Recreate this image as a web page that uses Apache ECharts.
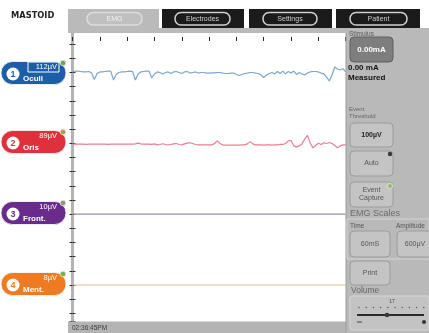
<!DOCTYPE html>
<html><head><meta charset="utf-8">
<script src="https://cdn.jsdelivr.net/npm/echarts@6/dist/echarts.min.js"></script>
<style>html,body{margin:0;padding:0;background:#fff}#c{width:429px;height:333px}</style>
</head><body><div id="c"></div>
<script>
// ---- data (deviation from each channel's baseline, in grid divisions; + = up) ----
const oculiValues = [0.04,0.1,0.1,0.07,0.04,0.04,0.07,-0.04,-0.49,-0.07,
 0.04,0.04,0.07,0.1,0.1,-0.53,-0.14,0,0.04,0.04,
 0.07,0.1,0.07,-0.53,-0.1,0.04,0.07,0.1,0.1,-0.39,
 -0.1,0.04,0,-0.1,0,0.04,-0.07,0.04,0.07,0,
 -0.07,0.04,0.07,-0.04,0,0.04,-0.04,0,0,-0.04,
 -0.04,-0.02,-0.02,0,0,-0.04,-0.07,-0.07,-0.04,-0.04,
 -0.14,-0.21,-0.14,-0.07,-0.04,0,0,-0.04,-0.07,-0.18,
 -0.35,-0.18,-0.07,0,-0.1,0.07,-0.07,0.1,-0.1,0.07,
 -0.04,0.1,-0.14,0,-0.1,-0.18,-0.04,0.04,0.07,0.07,
 0.04,-0.04,-0.1,-0.32,-0.6,-0.18,0.39,0.25,0.18,0.28,
 0.04];
const orisValues = [-0.06,-0.06,-0.05,-0.06,-0.06,-0.07,-0.06,-0.06,-0.05,-0.06,
 -0.06,-0.06,-0.06,-0.07,-0.06,-0.06,-0.06,-0.05,-0.06,-0.06,
 -0.06,-0.06,-0.05,-0.04,0.01,-0.04,-0.06,-0.06,-0.06,-0.07,
 -0.04,-0.11,-0.08,-0.03,-0.08,-0.11,-0.08,-0.04,-0.01,-0.08,
 -0.11,-0.04,0.01,0.04,-0.01,-0.08,-0.11,-0.10,-0.11,-0.11,
 -0.11,-0.11,-0.01,0.17,-0.01,-0.11,-0.13,-0.13,-0.13,-0.13,
 -0.13,-0.13,-0.11,-0.11,-0.04,0.12,-0.04,-0.11,-0.11,-0.1,
 -0.12,-0.1,-0.11,-0.12,-0.1,-0.11,-0.08,-0.08,-0.01,0.17,
 0.2,-0.18,-0.25,-0.18,-0.04,0.31,0.56,0.03,-0.32,-0.15,
 0.01,-0.08,0.04,-0.01,0.06,-0.01,-0.15,-0.32,-0.18,-0.11,
 -0.11];
const flatTimes = [0,10,20,30,40,50,60,70,80,90,100];
const frontValues = [0,0,0,0,0,0,0,0,0,0,0];
const mentValues = [0,0,0,0,0,0,0,0,0,0,0];

const channelNames = ['Oculi','Oris','Front.','Ment.'];
const channelAmps = ['112µV','89µV','10µV','8µV'];
const channelBaselines = [3,8,13,18];
const channelColors = ['#1d5ea8','#df313b','#6a2c8c','#ee7a22'];
const traceColors = ['#7fa5cb','#eb7d8f','#9e8cb3','#f4b98c'];
const dotColors = ['#6aa84f','#b59a45','#8d9a6d','#7cb342'];
const tabs = ['EMG','Electrodes','Settings','Patient'];
const timeLabel = '02:36:45PM';

function toPairs(times, vals, base){ return vals.map((v,i)=>[times ? times[i] : i, base - v]); }

const seriesData = [
  toPairs(null, oculiValues, channelBaselines[0]),
  toPairs(null, orisValues, channelBaselines[1]),
  toPairs(flatTimes, frontValues, channelBaselines[2]),
  toPairs(flatTimes, mentValues, channelBaselines[3])
];

// ---- graphic helpers ----
const F = '"Liberation Sans", Arial, sans-serif';
function R(x,y,w,h,fill,stroke,r,z,lw){return {type:'rect',z:z||10,silent:true,shape:{x,y,width:w,height:h,r:r||0},style:{fill:fill||'none',stroke:stroke||null,lineWidth:lw||1}};}
function T(x,y,text,font,fill,align,z){return {type:'text',z:z||12,silent:true,x,y,style:{text,font,fill,textAlign:align||'left',textVerticalAlign:'middle',verticalAlign:'middle'}};}
function C(cx,cy,r,fill,stroke,z,lw){return {type:'circle',z:z||12,silent:true,shape:{cx,cy,r},style:{fill,stroke:stroke||null,lineWidth:lw||1}};}
function L(x1,y1,x2,y2,stroke,lw,z){return {type:'line',z:z||12,silent:true,shape:{x1,y1,x2,y2},style:{stroke,lineWidth:lw||1}};}

const g = [];
// title
g.push(T(11,16,'MASTOID','bold 8.3px "DejaVu Sans", sans-serif','#222','left'));
// tab bar
g.push(R(68,28,361,5,'#bababa',null,0,9));
g.push(R(68,9,91,20,'#bababa',null,0,9));
const tabX = [[68,159],[162,244],[249,332],[336,420]];
const pillX = [[87,142],[175,230],[263,317],[350,407]];
for(let i=0;i<4;i++){
  if(i>0) g.push(R(tabX[i][0],9,tabX[i][1]-tabX[i][0],19,'#1b1b1b',null,0,9));
  g.push(R(pillX[i][0],12.5,pillX[i][1]-pillX[i][0],12.5,i===0?'#c0c0c0':'#1b1b1b',i===0?'#dcdcdc':'#d0d0d0',6,11,1.5));
  g.push(T((pillX[i][0]+pillX[i][1])/2,19,tabs[i],'7px '+F,i===0?'#f2f2f2':'#cfcfcf','center'));
}
// right panel
g.push(R(346,28,83,305,'#b9b9b9',null,0,9));
g.push(L(346,33,346,333,'#9a9a9a',1,10));
g.push(T(349,34,'Stimulus','6.5px '+F,'#5a5a5a'));
g.push(R(350,37,43,25,'#7e7e7e','#5e5e5e',4,11));
g.push(T(371.5,50,'0.00mA','bold 8px '+F,'#ffffff','center'));
g.push(T(348,68,'0.00 mA','bold 8px '+F,'#111'));
g.push(T(348,78,'Measured','bold 8px '+F,'#111'));
g.push(T(349,109,'Event','6px '+F,'#666'));
g.push(T(349,116,'Threshold','6px '+F,'#666'));
function button(x,y,w,h,lines,bold){
  g.push(R(x,y,w,h,'#c4c4c4','#9c9c9c',4,11));
  const n=lines.length;
  lines.forEach((s,i)=>g.push(T(x+w/2,y+h/2+(i-(n-1)/2)*8,s,(bold?'bold ':'')+'7px '+F,bold?'#222':'#555','center')));
}
button(350,123,43,24,['100µV'],true);
button(350,151,43,25,['Auto']);
g.push(C(390,154,2.2,'#3a3a3a',null,12));
button(350,182,43,25,['Event','Capture']);
g.push(C(390,186,2.5,'#8dc050','#e0e0e0',12));
g.push(R(347,219,82,40,'none','#d4d4d4',0,10));
g.push(T(350,214,'EMG Scales','9px '+F,'#6a6a6a'));
g.push(T(350,226,'Time','6.5px '+F,'#555'));
g.push(T(396,226,'Amplitude','6.5px '+F,'#555'));
button(350,231,40,26,['60mS']);
button(397,231,36,26,['600µV']);
button(350,261,40,24,['Print']);
g.push(T(351,291,'Volume','8.5px '+F,'#666'));
g.push(R(350,296,79,34,'#c3c3c3','#d6d6d6',2,10));
g.push(T(392,302,'17','5px '+F,'#444','center'));
for(let i=0;i<10;i++) g.push(C(359+i*7.2,307.5,0.7,'#555',null,12));
g.push(L(357,315,424,315,'#2c2c2c',2,12));
g.push(C(387,315,2.3,'#3a3a3a',null,13));
g.push(L(357,322,362,322,'#444',1,12));
g.push(C(424,322,2,'#333',null,12));
// bottom time strip
g.push(R(68,321.5,278,12,'#b4b4b4',null,0,9));
g.push(T(72,328,timeLabel,'6.5px '+F,'#3c3c3c'));
// channel badges
for(let i=0;i<4;i++){
  const cy = [73,142,213,284][i];
  g.push(R(1,cy-11.5,65,23,channelColors[i],'#ffffff',11.5,11,0.8));
  g.push(C(13,cy+1,6.5,'#ffffff',null,12));
  g.push(T(13,cy+1.5,String(i+1),'bold 9px '+F,channelColors[i],'center',13));
  g.push(T(57,cy-6,channelAmps[i],'7.5px '+F,'#ffffff','right',13));
  if(i===0) g.push(R(28,cy-11,31,10,'none','#ffffff',0,12,1));
  g.push(T(23,cy+6,channelNames[i],'bold 8px '+F,'#ffffff','left',13));
  g.push(C(63,cy-10,2.8,dotColors[i],'#e6e6e6',13,0.8));
}

const tick = {show:true,inside:true,length:4,lineStyle:{color:'#2a2a2a',width:1}};
const option = {
  animation:false,
  backgroundColor:'#ffffff',
  grid:{left:72.5,right:83.3,top:30,bottom:12,show:false},
  xAxis:[
    {type:'value',min:0,max:100,interval:10,position:'bottom',axisLine:{show:false},axisTick:tick,axisLabel:{show:false},splitLine:{show:false}},
    {type:'value',min:0,max:100,interval:10,position:'top',offset:-7,axisLine:{show:false},axisTick:tick,axisLabel:{show:false},splitLine:{show:false}}
  ],
  yAxis:[
    {type:'value',inverse:true,min:0,max:20.54,interval:1,position:'left',offset:1.5,axisLine:{show:true,lineStyle:{color:'#b3b3b3',width:3}},axisTick:{show:true,inside:true,length:3,lineStyle:{color:'#333',width:1}},axisLabel:{show:false},splitLine:{show:false}},
    {type:'value',inverse:true,min:0,max:20.54,interval:1,position:'right',axisLine:{show:false},axisTick:{show:true,inside:true,length:3,lineStyle:{color:'#2a2a2a',width:1}},axisLabel:{show:false},splitLine:{show:false}}
  ],
  series: seriesData.map((d,i)=>({type:'line',data:d,symbol:'none',silent:true,smooth:false,
    lineStyle:{color:traceColors[i],width:1.2},z:3})),
  graphic:{elements:g}
};
const chart = echarts.init(document.getElementById('c'),null,{renderer:'canvas'});
chart.setOption(option);
</script></body></html>
